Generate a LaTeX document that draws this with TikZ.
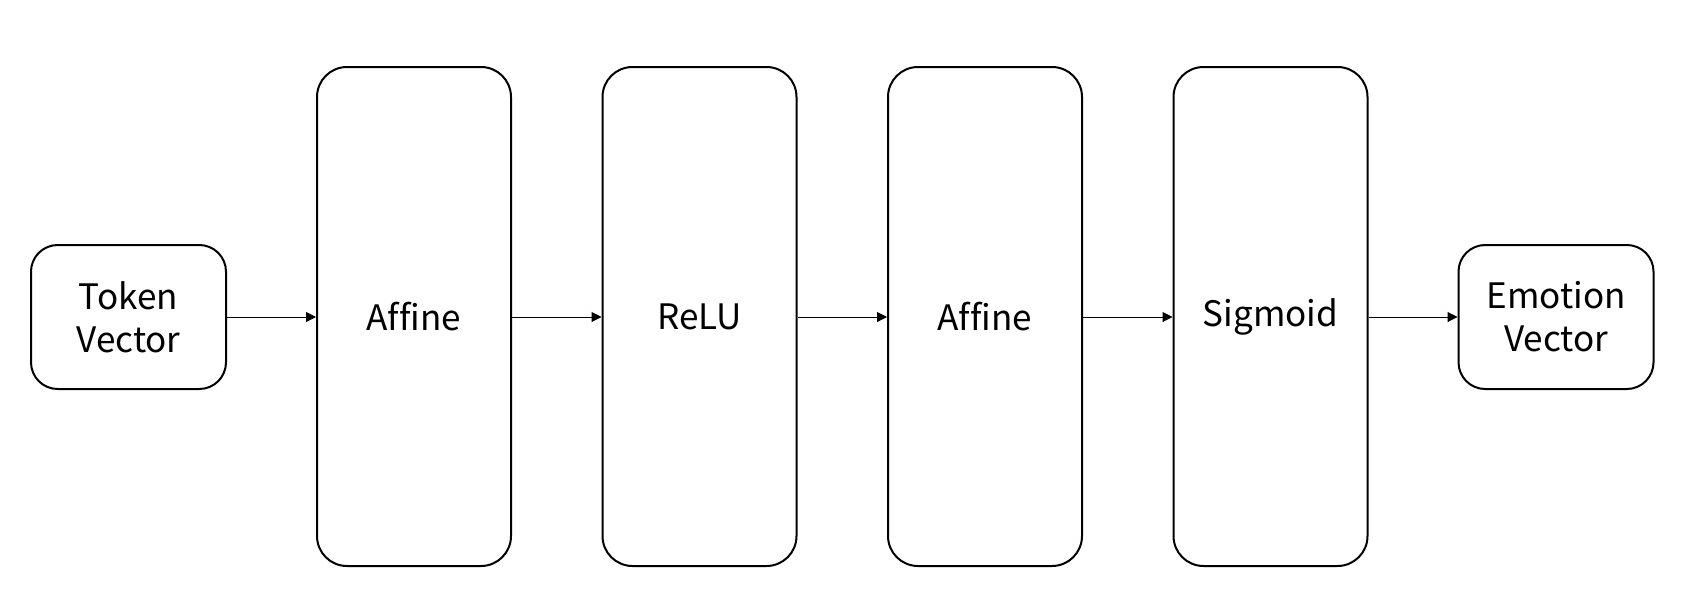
\documentclass[tikz,border=0pt]{standalone}
\usepackage{fontspec}
\setmainfont[Ligatures=NoCommon]{Noto Sans CJK JP}
\usetikzlibrary{arrows.meta}
\begin{document}
\begin{tikzpicture}[x=0.75pt,y=-0.75pt,
  io/.style={draw, line width=1.5pt, rounded corners=20pt, minimum width=146.25pt, minimum height=108pt, align=center, inner sep=0pt, font=\fontsize{26.3pt}{32.25pt}\selectfont},
  layer/.style={draw, line width=1.5pt, rounded corners=22.5pt, minimum width=145.5pt, minimum height=374.25pt, align=center, inner sep=0pt, font=\fontsize{26.3pt}{32.25pt}\selectfont},
  flow/.style={line width=0.75pt, -{Triangle[length=7.5pt,width=7.5pt]}}]
\useasboundingbox (0,0) rectangle (1687,614);
\node[io] (tok) at (128.5,317) {Token\\Vector};
\node[layer] (aff1) at (414,316.5) {Affine};
\node[layer] (relu) at (699.5,316.5) {ReLU};
\node[layer] (aff2) at (985,316.5) {Affine};
\node[layer] (sig) at (1270.5,316.5) {Sigmoid};
\node[io] (emo) at (1556,317) {Emotion\\Vector};
\draw[flow] (tok.east) -- (tok.east -| aff1.west);
\draw[flow] (aff1.east |- tok.east) -- (tok.east -| relu.west);
\draw[flow] (relu.east |- tok.east) -- (tok.east -| aff2.west);
\draw[flow] (aff2.east |- tok.east) -- (tok.east -| sig.west);
\draw[flow] (sig.east |- tok.east) -- (emo.west);
\end{tikzpicture}
\end{document}
